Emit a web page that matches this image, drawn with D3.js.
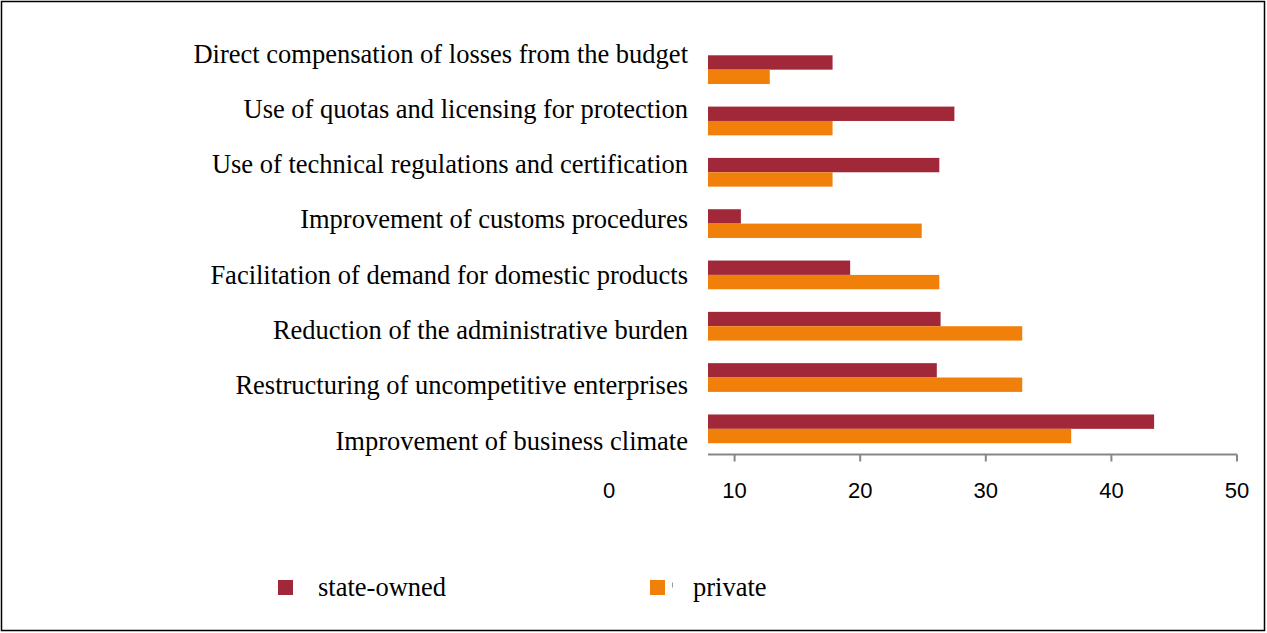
<!DOCTYPE html>
<html>
<head>
<meta charset="utf-8">
<script src="https://cdn.jsdelivr.net/npm/d3@7/dist/d3.min.js"></script>
<style>
  html, body { margin: 0; padding: 0; background: #fff; }
  svg { display: block; }
</style>
</head>
<body>
<svg id="chart" width="1267" height="633"></svg>
<script>
// Measures of support, share of respondents (%)
const categories = [
  "Direct compensation of losses from the budget",
  "Use of quotas and licensing for protection",
  "Use of technical regulations and certification",
  "Improvement of customs procedures",
  "Facilitation of demand for domestic products",
  "Reduction of the administrative burden",
  "Restructuring of uncompetitive enterprises",
  "Improvement of business climate"
];
const stateOwned = [17.8, 27.5, 26.3, 10.5, 19.2, 26.4, 26.1, 43.4];
const privateOwned = [12.8, 17.8, 17.8, 24.9, 26.3, 32.9, 32.9, 36.8];
const seriesNames = ["state-owned", "private"];
const seriesColors = ["#A02838", "#F0800A"];
const tickValues = [0, 10, 20, 30, 40, 50];

const svg = d3.select("#chart");

// outer frame
svg.append("rect")
  .attr("x", 1.5).attr("y", 1.5)
  .attr("width", 1263).attr("height", 629)
  .attr("fill", "#fff").attr("stroke", "#000").attr("stroke-width", 1.5);

const plotLeft = 708;
const x = d3.scaleLinear().domain([0, 50]).range([609, 1237]);
const y = d3.scaleBand().domain(categories)
  .range([44, 454.5]).paddingInner(0.44).paddingOuter(0.22);
const ySub = d3.scaleBand().domain(seriesNames).range([0, y.bandwidth()]);
// label baselines
const yLabel = d3.scalePoint().domain(categories).range([62.5, 449.5]);

const rows = categories.map((c, i) => ({
  cat: c,
  vals: [
    { s: seriesNames[0], v: stateOwned[i], color: seriesColors[0] },
    { s: seriesNames[1], v: privateOwned[i], color: seriesColors[1] }
  ]
}));

// bars
const g = svg.append("g");
g.selectAll("g.row").data(rows).join("g")
  .attr("class", "row")
  .attr("transform", d => `translate(0,${y(d.cat)})`)
  .selectAll("rect").data(d => d.vals).join("rect")
  .attr("x", plotLeft)
  .attr("y", d => ySub(d.s))
  .attr("width", d => Math.max(0, x(d.v) - plotLeft))
  .attr("height", ySub.bandwidth())
  .attr("fill", d => d.color);

// category labels
svg.append("g").selectAll("text").data(categories).join("text")
  .attr("x", 688)
  .attr("y", d => yLabel(d))
  .attr("text-anchor", "end")
  .attr("font-family", "'Liberation Serif', 'Times New Roman', serif")
  .attr("font-size", 26.5)
  .attr("fill", "#000")
  .text(d => d);

// x axis
const axisY = 454.5;
const axisG = svg.append("g");
axisG.append("line")
  .attr("x1", plotLeft).attr("x2", x(50))
  .attr("y1", axisY).attr("y2", axisY)
  .attr("stroke", "#878787").attr("stroke-width", 2);
axisG.selectAll("line.tick").data(tickValues.filter(t => x(t) >= plotLeft)).join("line")
  .attr("class", "tick")
  .attr("x1", d => x(d)).attr("x2", d => x(d))
  .attr("y1", axisY).attr("y2", axisY + 7)
  .attr("stroke", "#878787").attr("stroke-width", 2);
axisG.selectAll("text").data(tickValues).join("text")
  .attr("x", d => x(d))
  .attr("y", 497.5)
  .attr("text-anchor", "middle")
  .attr("font-family", "'Liberation Sans', Arial, sans-serif")
  .attr("font-size", 22)
  .attr("fill", "#000")
  .text(d => d);

// legend
const legend = svg.append("g");
const legendItems = [
  { name: seriesNames[0], color: seriesColors[0], sx: 278, tx: 318 },
  { name: seriesNames[1], color: seriesColors[1], sx: 650, tx: 693 }
];
legend.selectAll("rect").data(legendItems).join("rect")
  .attr("x", d => d.sx).attr("y", 580)
  .attr("width", 15).attr("height", 15)
  .attr("fill", d => d.color);
legend.append("line")
  .attr("x1", 672.5).attr("x2", 672.5)
  .attr("y1", 582.5).attr("y2", 587.5)
  .attr("stroke", "#9a9a9a").attr("stroke-width", 1);
legend.selectAll("text").data(legendItems).join("text")
  .attr("x", d => d.tx).attr("y", 596)
  .attr("font-family", "'Liberation Serif', 'Times New Roman', serif")
  .attr("font-size", 26.5)
  .attr("fill", "#000")
  .text(d => d.name);
</script>
</body>
</html>
